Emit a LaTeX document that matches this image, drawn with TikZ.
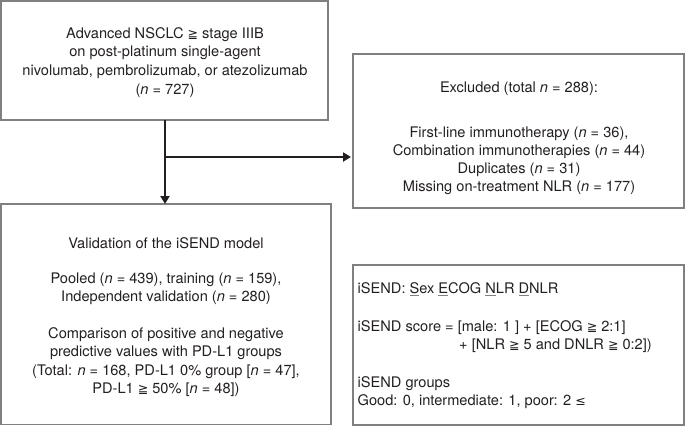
\documentclass[tikz,border=0pt]{standalone}
\usepackage{fontspec}
\setmainfont{TeX Gyre Heros}
\newfontfamily\symf{DejaVu Sans}
\usetikzlibrary{arrows.meta}
\definecolor{ink}{HTML}{231F20}
\definecolor{frame}{HTML}{808080}
\newcommand\mygeqq{{\symf\fontsize{12.5}{12.5}\selectfont ≧}}
\newcommand\myleqs{{\symf\fontsize{12.5}{12.5}\selectfont ≤}}
\newcommand\ulg[1]{\textcolor{frame}{\underline{\textcolor{ink}{#1}}}}
\begin{document}
\begin{tikzpicture}[x=1pt,y=-1pt,
  box/.style={draw=frame, line width=1.2pt, inner sep=0pt, outer sep=0pt},
  txt/.style={anchor=base, inner sep=0pt, text=ink, font=\fontsize{14.6}{18}\selectfont},
  txtl/.style={txt, anchor=base west},
  arr/.style={draw=ink, line width=2.6pt, -{Triangle[length=8pt,width=9pt]}}]
\useasboundingbox (0,0) rectangle (685,426);

% boxes
\node[box, minimum width=327pt, minimum height=119pt] (box1) at (164.5,60.5) {};
\node[box, minimum width=331pt, minimum height=154pt] (box2) at (518.5,131) {};
\node[box, minimum width=330pt, minimum height=220.5pt] (box3) at (166,314.25) {};
\node[box, minimum width=331pt, minimum height=160pt] (box4) at (518.5,345) {};

% connectors
\coordinate (j) at (165,157);
\draw[arr] (j |- box1.south) -- (j |- box3.north);
\draw[arr, shorten >=2pt] (j) -- (j -| box2.west);

% box 1 text
\foreach \s [count=\i] in {{Advanced NSCLC \mygeqq{} stage IIIB},
  {on post-platinum single-agent},
  {nivolumab, pembrolizumab, or atezolizumab},
  {(\textit{n} = 727)}}
  \node[txt] (ta\i) at (165,{38+18.8*(\i-1)}) {\s};

% box 2 text
\node[txt] (tb0) at (519,92.3) {Excluded (total \textit{n} = 288):};
\foreach \s [count=\i] in {{First-line immunotherapy (\textit{n} = 36),},
  {Combination immunotherapies (\textit{n} = 44)},
  {Duplicates (\textit{n} = 31)},
  {Missing on-treatment NLR (\textit{n} = 177)}}
  \node[txt] (tb\i) at (519,{137+18*(\i-1)}) {\s};

% box 3 text
\node[txt] (tc0) at (166,248.3) {Validation of the iSEND model};
\node[txt] (tc1) at (166,283.3) {Pooled (\textit{n} = 439), training (\textit{n} = 159),};
\node[txt] (tc2) at (166,301.6) {Independent validation (\textit{n} = 280)};
\foreach \s [count=\i from 3] in {{Comparison of positive and negative},
  {predictive values with PD-L1 groups},
  {(Total: \textit{n} = 168, PD-L1 0\% group [\textit{n} = 47],},
  {PD-L1 \mygeqq{} 50\% [\textit{n} = 48])}}
  \node[txt] (tc\i) at (166,{338.3+18.4*(\i-3)}) {\s};

% box 4 text
\node[txtl] (td1) at (357.5,293.3) {iSEND: \ulg{S}ex \ulg{E}COG \ulg{N}LR \ulg{D}NLR};
\node[txtl] (td2) at (357.5,331) {iSEND score = [male: 1 ] + [ECOG \mygeqq{} 2:1]};
\node[txtl] (td3) at (459,349) {+ [NLR \mygeqq{} 5 and DNLR \mygeqq{} 0:2])};
\node[txtl] (td4) at (357.5,387.3) {iSEND groups};
\node[txtl] (td5) at (357.5,405.7) {Good: 0, intermediate: 1, poor: 2 \myleqs};
\end{tikzpicture}
\end{document}
